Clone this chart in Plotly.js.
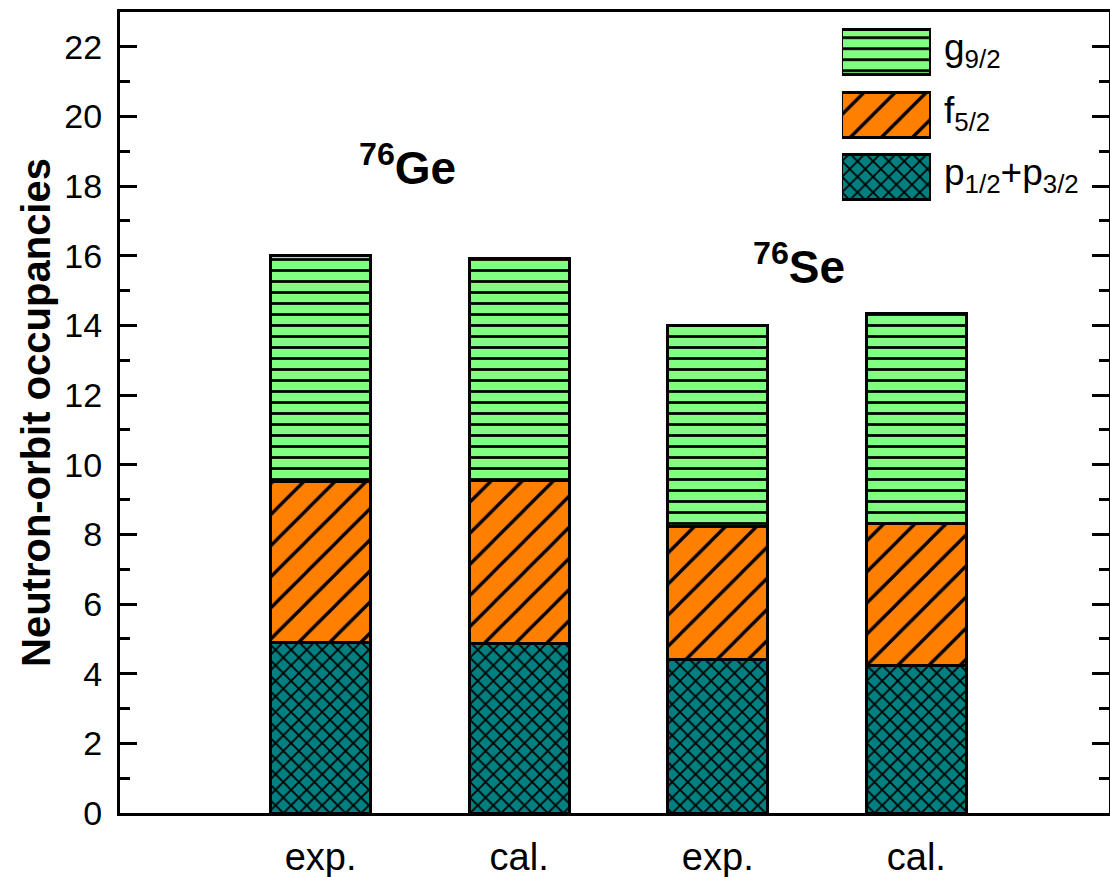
<!DOCTYPE html>
<html>
<head>
<meta charset="utf-8">
<script src="https://cdn.plot.ly/plotly-3.0.1.min.js"></script>
<style>html,body{margin:0;padding:0;background:#fff;}#chart{width:1110px;height:877px;}</style>
</head>
<body>
<div id="chart"></div>
<script>
// ---- data ----
var categories = ['Ge exp.', 'Ge cal.', 'Se exp.', 'Se cal.'];
var tickLabels = ['exp.', 'cal.', 'exp.', 'cal.'];
var p_occ = [4.91, 4.86, 4.40, 4.24];   // p1/2 + p3/2
var f_occ = [4.60, 4.68, 3.82, 4.06];   // f5/2
var g_occ = [6.49, 6.38, 5.77, 6.04];   // g9/2
var seriesNames = ['p<sub>1/2</sub>+p<sub>3/2</sub>', 'f<sub>5/2</sub>', 'g<sub>9/2</sub>'];
var nucleusLabels = ['<sup>76</sup>Ge', '<sup>76</sup>Se'];
var legendUnit = [1, 1, 1];

var FONT = 'Arial, "Liberation Sans", sans-serif';
var styles = [
  {color: '#008080', pattern: {shape: 'x', size: 11, solidity: 0.3, fgcolor: '#000', bgcolor: '#008080'}},
  {color: '#FF8000', pattern: {shape: '/', size: 22, solidity: 0.15, fgcolor: '#000', bgcolor: '#FF8000'}},
  {color: '#80FF80', pattern: {shape: '-', size: 11, solidity: 0.25, fgcolor: '#000', bgcolor: '#80FF80'}}
];
var seriesData = [p_occ, f_occ, g_occ];

var traces = [];
seriesData.forEach(function (vals, i) {
  traces.push({
    type: 'bar', x: categories, y: vals, name: seriesNames[i],
    width: 0.503, showlegend: false, hoverinfo: 'skip',
    marker: {color: styles[i].color, pattern: styles[i].pattern, line: {color: '#000', width: 3}}
  });
});
// legend swatches drawn as bars on a small hidden axis
seriesData.forEach(function (vals, i) {
  traces.push({
    type: 'bar', orientation: 'h', x: [legendUnit[i]], y: [seriesNames[i]],
    xaxis: 'x2', yaxis: 'y2', width: 0.72, showlegend: false, hoverinfo: 'skip',
    marker: {color: styles[i].color, pattern: styles[i].pattern, line: {color: '#000', width: 3}}
  });
});

var annotations = [
  {x: 0.44, y: 18.6, xref: 'x', yref: 'y', text: nucleusLabels[0], showarrow: false,
   font: {family: FONT, size: 46, weight: 'bold', color: '#000'}, xanchor: 'center', yanchor: 'middle'},
  {x: 2.41, y: 15.75, xref: 'x', yref: 'y', text: nucleusLabels[1], showarrow: false,
   font: {family: FONT, size: 46, weight: 'bold', color: '#000'}, xanchor: 'center', yanchor: 'middle'}
];
seriesNames.forEach(function (nm, i) {
  annotations.push({x: 0.831, y: nm, xref: 'paper', yref: 'y2', text: nm, showarrow: false,
    xanchor: 'left', yanchor: 'middle', yshift: 2, font: {family: FONT, size: 37, color: '#000'}});
});

var layout = {
  width: 1110, height: 877,
  margin: {l: 120, r: 1, t: 12, b: 64},
  paper_bgcolor: '#fff', plot_bgcolor: '#fff',
  barmode: 'stack',
  font: {family: FONT, color: '#000'},
  showlegend: false,
  xaxis: {
    type: 'category', categoryarray: categories, range: [-1.01, 3.97],
    tickvals: categories, ticktext: tickLabels, ticks: '',
    tickfont: {family: FONT, size: 38, color: '#000'}, ticklabelstandoff: 8,
    showline: true, linecolor: '#000', linewidth: 3, mirror: true,
    showgrid: false, zeroline: false, fixedrange: true
  },
  yaxis: {
    range: [0, 23], dtick: 2, tick0: 0,
    ticks: 'inside', ticklen: 17, tickwidth: 3, tickcolor: '#000',
    minor: {dtick: 1, ticks: 'inside', ticklen: 10, tickwidth: 3, tickcolor: '#000'},
    tickfont: {family: FONT, size: 34, color: '#000'}, ticklabelstandoff: 8,
    showline: true, linecolor: '#000', linewidth: 3, mirror: 'ticks',
    showgrid: false, zeroline: false,
    title: {text: 'Neutron-orbit occupancies', font: {family: FONT, size: 40, weight: 'bold', color: '#000'}, standoff: 2}
  },
  xaxis2: {domain: [0.730, 0.820], range: [0, 1], anchor: 'y2', visible: false, fixedrange: true},
  yaxis2: {domain: [0.7544, 0.9885], range: [-0.5, 2.5], type: 'category', categoryarray: seriesNames,
           anchor: 'x2', visible: false, fixedrange: true},
  annotations: annotations
};

Plotly.newPlot('chart', traces, layout, {staticPlot: true, displayModeBar: false});
</script>
</body>
</html>
